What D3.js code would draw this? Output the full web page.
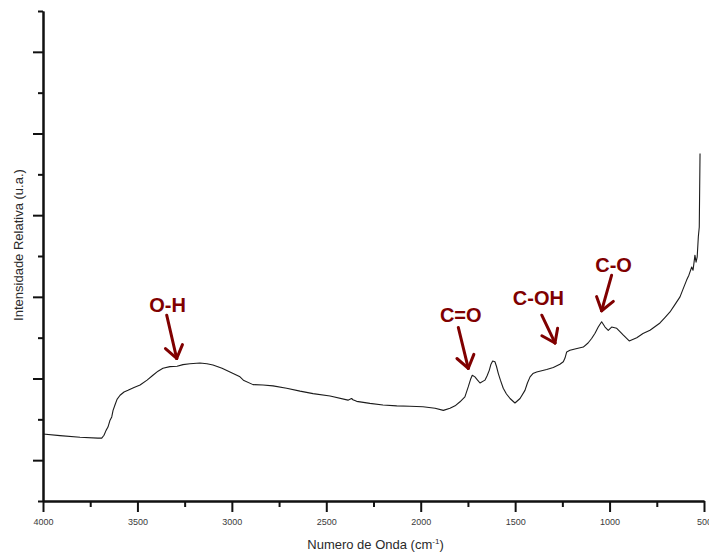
<!DOCTYPE html>
<html>
<head>
<meta charset="utf-8">
<script src="https://cdn.jsdelivr.net/npm/d3@7"></script>
<style>
  html, body { margin: 0; padding: 0; background: #fff; }
  svg { display: block; font-family: "Liberation Sans", Arial, sans-serif; }
</style>
</head>
<body>
<svg id="chart" width="709" height="553"></svg>
<script>
// FTIR spectrum: wavenumber (cm-1) and relative intensity (a.u.)
const wavenumber = [
  4000, 3910, 3804, 3709, 3689, 3677, 3666, 3656, 3645, 3636,
  3629, 3619, 3608, 3592, 3571, 3550, 3518, 3486, 3449, 3418,
  3391, 3365, 3328, 3290, 3259, 3222, 3169, 3132, 3100, 3052,
  3010, 2957, 2939, 2888, 2835, 2782, 2710, 2639, 2570, 2480,
  2385, 2375, 2366, 2359, 2339, 2269, 2200, 2127, 2057, 1988,
  1924, 1880, 1845, 1818, 1792, 1766, 1748, 1736, 1727, 1713,
  1699, 1686, 1660, 1649, 1637, 1628, 1619, 1607, 1599, 1589,
  1578, 1563, 1546, 1527, 1501, 1474, 1448, 1435, 1421, 1406,
  1386, 1333, 1298, 1263, 1245, 1236, 1227, 1210, 1178, 1139,
  1114, 1095, 1077, 1060, 1042, 1024, 1007, 989, 962, 945,
  927, 896, 856, 823, 786, 733, 707, 680, 654, 627,
  611, 592, 580, 565, 558, 548, 542, 536, 530, 525, 521
];
const intensity = [
  0.064, 0.060, 0.056, 0.054, 0.054, 0.061, 0.073, 0.081, 0.098, 0.106,
  0.122, 0.135, 0.149, 0.159, 0.167, 0.171, 0.178, 0.184, 0.196, 0.208,
  0.218, 0.225, 0.229, 0.230, 0.234, 0.236, 0.238, 0.236, 0.233, 0.225,
  0.216, 0.204, 0.196, 0.185, 0.184, 0.182, 0.176, 0.169, 0.163, 0.157,
  0.147, 0.149, 0.151, 0.148, 0.144, 0.139, 0.135, 0.133, 0.132, 0.131,
  0.127, 0.122, 0.127, 0.133, 0.143, 0.155, 0.180, 0.198, 0.208, 0.204,
  0.196, 0.189, 0.196, 0.206, 0.220, 0.235, 0.243, 0.241, 0.230, 0.212,
  0.196, 0.176, 0.162, 0.151, 0.140, 0.151, 0.171, 0.189, 0.204, 0.212,
  0.216, 0.222, 0.227, 0.235, 0.241, 0.250, 0.265, 0.269, 0.273, 0.277,
  0.287, 0.298, 0.311, 0.326, 0.339, 0.326, 0.318, 0.326, 0.323, 0.315,
  0.306, 0.292, 0.300, 0.310, 0.318, 0.336, 0.349, 0.363, 0.381, 0.400,
  0.419, 0.441, 0.453, 0.473, 0.465, 0.502, 0.485, 0.498, 0.547, 0.571, 0.751
];

// Axis ticks
const xMajorTicks = [4000, 3500, 3000, 2500, 2000, 1500, 1000, 500];
const xMinorTicks = [3750, 3250, 2750, 2250, 1750, 1250, 750];
const yMajorTicks = [0, 0.2, 0.4, 0.6, 0.8, 1.0];
const yMinorTicks = [-0.1, 0.1, 0.3, 0.5, 0.7, 0.9, 1.1];

// Band assignments: label, text anchor (wn, I), arrow start and arrow tip (wn, I)
const bandLabels = ["O-H", "C=O", "C-OH", "C-O"];
const bandTextPos = [[3340, 0.363], [1788, 0.339], [1377, 0.381], [979, 0.461]];
const bandArrowFrom = [[3345, 0.355], [1801, 0.325], [1359, 0.355], [989, 0.453]];
const bandArrowTo = [[3292, 0.249], [1748, 0.225], [1289, 0.287], [1042, 0.366]];

const xTitle = "Numero de Onda (cm";
const yTitle = "Intensidade Relativa (u.a.)";

const svg = d3.select("#chart");
const plotLeft = 43, plotRight = 704, plotTop = 11, plotBottom = 501;

const x = d3.scaleLinear().domain([4000, 500]).range([plotLeft, plotRight]);
const y = d3.scaleLinear().domain([-0.1, 1.1]).range([plotBottom, plotTop]);

const data = wavenumber.map((w, i) => ({ w, v: intensity[i] }));

// Spectrum trace
svg.append("path")
  .datum(data)
  .attr("fill", "none")
  .attr("stroke", "#1c1c1c")
  .attr("stroke-width", 1.1)
  .attr("stroke-linejoin", "round")
  .attr("d", d3.line().x(d => x(d.w)).y(d => y(d.v)));

// Axes
function styleAxis(g) {
  g.selectAll("path.domain").attr("stroke", "#111").attr("stroke-width", 2);
  g.selectAll(".tick line").attr("stroke", "#111").attr("stroke-width", 2);
}

svg.append("g")
  .attr("transform", `translate(0,${plotBottom})`)
  .call(d3.axisBottom(x).tickValues(xMinorTicks).tickSize(6).tickSizeOuter(0).tickFormat(""))
  .call(styleAxis);

const xAxisG = svg.append("g")
  .attr("transform", `translate(0,${plotBottom})`)
  .call(d3.axisBottom(x).tickValues(xMajorTicks).tickSize(11).tickSizeOuter(0).tickPadding(7).tickFormat(d3.format("d")))
  .call(styleAxis);
xAxisG.selectAll(".tick text")
  .attr("font-size", 9)
  .attr("font-family", "'Liberation Sans', Arial, sans-serif")
  .attr("fill", "#3a3a3a");

svg.append("g")
  .attr("transform", `translate(${plotLeft},0)`)
  .call(d3.axisLeft(y).tickValues(yMinorTicks).tickSize(5).tickSizeOuter(0).tickFormat(""))
  .call(styleAxis);

svg.append("g")
  .attr("transform", `translate(${plotLeft},0)`)
  .call(d3.axisLeft(y).tickValues(yMajorTicks).tickSize(10).tickSizeOuter(0).tickFormat(""))
  .call(styleAxis);

// Axis titles
const xt = svg.append("text")
  .attr("x", (plotLeft + plotRight) / 2 + 2)
  .attr("y", 549)
  .attr("text-anchor", "middle")
  .attr("font-size", 13)
  .attr("fill", "#2a2a2a");
xt.append("tspan").text(xTitle);
xt.append("tspan").attr("font-size", 8).attr("dy", -5).text("-1");
xt.append("tspan").attr("dy", 5).text(")");

svg.append("text")
  .attr("transform", "translate(18,245) rotate(-90)")
  .attr("text-anchor", "middle")
  .attr("dy", "0.35em")
  .attr("font-size", 13)
  .attr("fill", "#2a2a2a")
  .text(yTitle);

// Band annotations
const red = "#800000";
const ann = svg.append("g");
bandLabels.forEach((lab, i) => {
  ann.append("text")
    .attr("x", x(bandTextPos[i][0]))
    .attr("y", y(bandTextPos[i][1]))
    .attr("text-anchor", "middle")
    .attr("font-size", 20)
    .attr("font-weight", "bold")
    .attr("fill", red)
    .text(lab);

  const x0 = x(bandArrowFrom[i][0]), y0 = y(bandArrowFrom[i][1]);
  const x1 = x(bandArrowTo[i][0]), y1 = y(bandArrowTo[i][1]);
  ann.append("line")
    .attr("x1", x0).attr("y1", y0).attr("x2", x1).attr("y2", y1)
    .attr("stroke", red).attr("stroke-width", 3).attr("stroke-linecap", "round");

  // open arrowhead: two arms rotated from the back direction
  const back = Math.atan2(y0 - y1, x0 - x1);
  const len = 15, spread = 0.62;
  [back - spread, back + spread].forEach(a => {
    ann.append("line")
      .attr("x1", x1).attr("y1", y1)
      .attr("x2", x1 + len * Math.cos(a)).attr("y2", y1 + len * Math.sin(a))
      .attr("stroke", red).attr("stroke-width", 3).attr("stroke-linecap", "round");
  });
});
</script>
</body>
</html>
